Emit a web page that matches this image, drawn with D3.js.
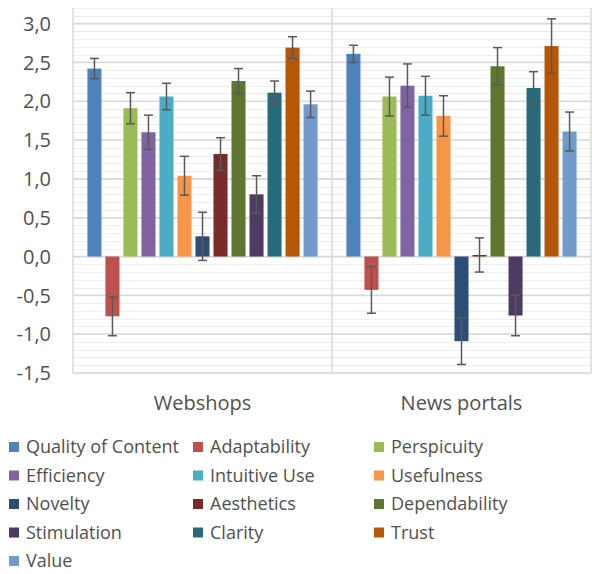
<!DOCTYPE html>
<html>
<head>
<meta charset="utf-8">
<script src="https://cdn.jsdelivr.net/npm/d3@7"></script>
<style>
  body { margin: 0; background: #fff; }
  text { font-family: "Open Sans", sans-serif; fill: #505050; }
</style>
</head>
<body>
<div id="chart"></div>
<script>
// ---------------------------------------------------------------- data
const categories = ["Webshops", "News portals"];
const series = ["Quality of Content", "Adaptability", "Perspicuity", "Efficiency",
  "Intuitive Use", "Usefulness", "Novelty", "Aesthetics", "Dependability",
  "Stimulation", "Clarity", "Trust", "Value"];
const colors = ["#4f81bd", "#c0504d", "#9bbb59", "#8064a2", "#4bacc6", "#f79646",
  "#2c4d75", "#772c2a", "#5f7530", "#4d3b62", "#276a7c", "#b65708", "#729aca"];

const webshops = [2.42, -0.77, 1.91, 1.60, 2.06, 1.04, 0.26, 1.32, 2.26, 0.80, 2.11, 2.69, 1.96];
const webshopsErr = [0.13, 0.25, 0.20, 0.22, 0.17, 0.25, 0.31, 0.21, 0.16, 0.24, 0.15, 0.14, 0.17];
const newsPortals = [2.61, -0.43, 2.06, 2.20, 2.07, 1.81, -1.09, 0.02, 2.45, -0.76, 2.17, 2.71, 1.61];
const newsPortalsErr = [0.11, 0.30, 0.25, 0.28, 0.25, 0.26, 0.30, 0.22, 0.24, 0.26, 0.21, 0.35, 0.25];

const yTicks = [-1.5, -1.0, -0.5, 0.0, 0.5, 1.0, 1.5, 2.0, 2.5, 3.0];
const yMin = -1.5, yMax = 3.2;

// ---------------------------------------------------------------- setup
const W = 592, H = 574;
const plot = {left: 73, right: 591, top: 8, bottom: 373};

const svg = d3.select("#chart").append("svg")
  .attr("width", W).attr("height", H);

const y = d3.scaleLinear().domain([yMin, yMax]).range([plot.bottom, plot.top]);
const x0 = d3.scaleBand().domain(categories).range([plot.left, plot.right]);
const x1 = d3.scaleBand().domain(series).range([0, x0.bandwidth()])
  .paddingInner(0.22).paddingOuter(0.8);

const fmt = v => d3.format(".1f")(v).replace("−", "-").replace(".", ",");

// minor grid
const minor = d3.range(Math.round(yMin * 10), Math.round(yMax * 10) + 1).map(v => v / 10);
svg.append("g").selectAll("line").data(minor).enter().append("line")
  .attr("x1", plot.left).attr("x2", plot.right)
  .attr("y1", d => Math.round(y(d)) + 0.5).attr("y2", d => Math.round(y(d)) + 0.5)
  .attr("stroke", "#ededed").attr("stroke-width", 1);

// major grid
svg.append("g").selectAll("line").data(yTicks).enter().append("line")
  .attr("x1", plot.left).attr("x2", plot.right)
  .attr("y1", d => y(d)).attr("y2", d => y(d))
  .attr("stroke", "#d9d9d9").attr("stroke-width", 1.6);

// vertical separators
const vlines = [plot.left, x0("News portals"), plot.right];
svg.append("g").selectAll("line").data(vlines).enter().append("line")
  .attr("x1", d => d).attr("x2", d => d)
  .attr("y1", plot.top).attr("y2", plot.bottom)
  .attr("stroke", "#d9d9d9").attr("stroke-width", 1.4);

// y labels
svg.append("g").selectAll("text").data(yTicks).enter().append("text")
  .attr("x", 51).attr("y", d => y(d)).attr("dy", "0.36em")
  .attr("text-anchor", "end").style("font-size", "20px")
  .text(fmt);

// category labels
svg.append("g").selectAll("text").data(categories).enter().append("text")
  .attr("x", d => x0(d) + x0.bandwidth() / 2).attr("y", 410)
  .attr("text-anchor", "middle").style("font-size", "20px")
  .text(d => d);

// ---------------------------------------------------------------- bars
const values = [webshops, newsPortals];
const errs = [webshopsErr, newsPortalsErr];
const rows = [];
categories.forEach((c, ci) => series.forEach((s, si) =>
  rows.push({cat: c, s: s, i: si, v: values[ci][si], e: errs[ci][si]})));

svg.append("g").selectAll("rect").data(rows).enter().append("rect")
  .attr("x", d => x0(d.cat) + x1(d.s))
  .attr("width", x1.bandwidth())
  .attr("y", d => y(Math.max(0, d.v)))
  .attr("height", d => Math.max(1, Math.abs(y(d.v) - y(0))))
  .attr("fill", d => colors[d.i]);

// error bars
const eb = svg.append("g").attr("stroke", "#595959").attr("stroke-width", 1.5);
const cx = d => x0(d.cat) + x1(d.s) + x1.bandwidth() / 2;
eb.selectAll("line.v").data(rows).enter().append("line")
  .attr("x1", cx).attr("x2", cx)
  .attr("y1", d => y(d.v + d.e)).attr("y2", d => y(d.v - d.e));
eb.selectAll("line.t").data(rows).enter().append("line")
  .attr("x1", d => cx(d) - 4.5).attr("x2", d => cx(d) + 4.5)
  .attr("y1", d => y(d.v + d.e)).attr("y2", d => y(d.v + d.e));
eb.selectAll("line.b").data(rows).enter().append("line")
  .attr("x1", d => cx(d) - 4.5).attr("x2", d => cx(d) + 4.5)
  .attr("y1", d => y(d.v - d.e)).attr("y2", d => y(d.v - d.e));

// ---------------------------------------------------------------- legend
const colX = [9, 193, 374];
const legend = svg.append("g").selectAll("g").data(series).enter().append("g")
  .attr("transform", (d, i) => "translate(" + colX[i % 3] + "," + (447 + Math.floor(i / 3) * 28.5) + ")");
legend.append("rect")
  .attr("x", 0).attr("y", -5).attr("width", 10).attr("height", 10)
  .attr("fill", (d, i) => colors[i]);
legend.append("text")
  .attr("x", 17).attr("y", 0).attr("dy", "0.36em")
  .style("font-size", "18px")
  .text(d => d);
</script>
</body>
</html>
